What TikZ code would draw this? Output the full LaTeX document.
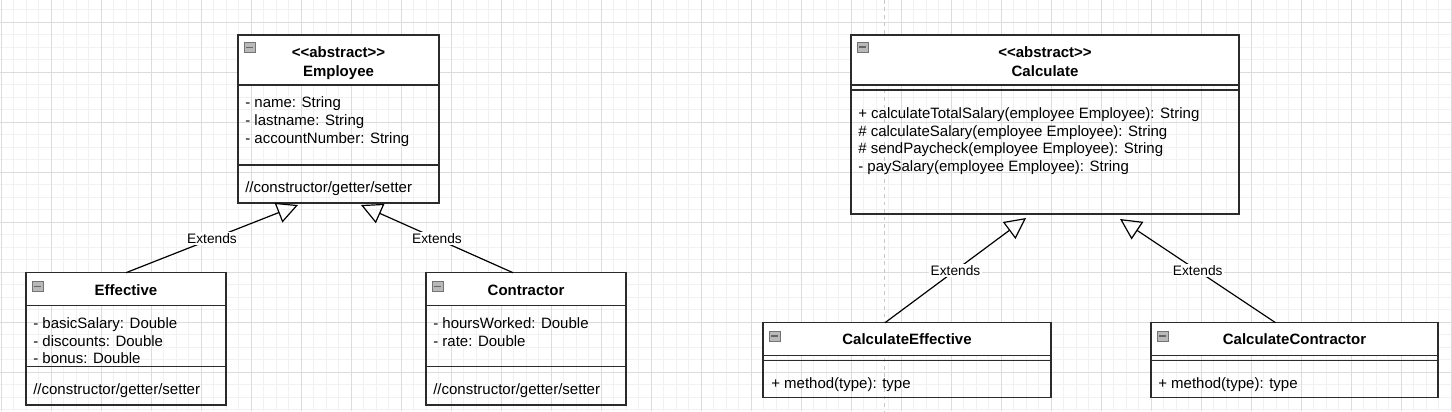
\documentclass[tikz,border=0pt]{standalone}
\usepackage{fontspec}
\setmainfont{Liberation Sans}[Ligatures=TeXOff]
\usetikzlibrary{arrows.meta,calc}
\definecolor{gmin}{HTML}{F1F1F1}
\definecolor{gmaj}{HTML}{DCDCDC}
\definecolor{dashc}{HTML}{C8C8C8}
\definecolor{boxc}{HTML}{2B2B2B}
\newcommand\umlbox[6]{%
  \node[box,minimum width={(#4-#2)*0.75pt},minimum height={(#5-#3)*0.75pt}] (#1) at ({(#2+#4)/2},{(#3+#5)/2}) {};
  \node[head,minimum width={(#4-#2)*0.75pt},minimum height={(#6-#3)*0.75pt}] (#1h) at ({(#2+#4)/2},{(#3+#6)/2}) {};}
\newcommand\sepline[2]{\draw[sep] (#1.west |- 0,#2) -- (#1.east |- 0,#2);}
\newcommand\lt[4]{\node[tx,anchor=base west] (#1) at (#2,#3+5) {#4};}
\newcommand\ct[4]{\node[tt,anchor=base] (#1) at (#2,#3+5) {#4};}
\newcommand\icon[3]{\node[ico,minimum width=8.25pt,minimum height=7.5pt,anchor=north west] (#1) at (#2,#3) {};
  \draw[black!60,line width=1pt] ([xshift=1.6pt]#1.west) -- ([xshift=-1.6pt]#1.east);}
\begin{document}
\begin{tikzpicture}[x=0.75pt,y=-0.75pt,
  box/.style={draw=boxc,line width=0.95pt,inner sep=0pt,outer sep=0pt,rectangle},
  head/.style={box,fill=white},
  sep/.style={draw=boxc,line width=0.95pt},
  tx/.style={inner sep=0pt,font=\fontsize{11.25}{13.5}\selectfont,text=black},
  tt/.style={tx,font=\fontsize{11.25}{13.5}\selectfont\bfseries},
  lbl/.style={fill=white,inner sep=1pt,text=black,font=\fontsize{10.3}{12}\selectfont},
  ext/.style={draw=black,line width=0.9pt,-{Triangle[open,length=15.75pt,width=15.75pt]}},
  ico/.style={draw=gray!90!black,fill=gray!55,line width=0.5pt,inner sep=0pt,outer sep=0pt,rectangle}]
\fill[white] (0,0) rectangle (1452,411);
\useasboundingbox (0,0) rectangle (1452,411);
% grid
\foreach \x in {1.3,13.8,...,1452} \draw[gmin,line width=0.75pt] (\x,0) -- (\x,411);
\foreach \y in {9.8,22.3,...,411} \draw[gmin,line width=0.75pt] (0,\y) -- (1452,\y);
\foreach \x in {1.3,51.3,...,1452} \draw[gmaj,line width=0.75pt] (\x,0) -- (\x,411);
\foreach \y in {22.3,72.3,...,411} \draw[gmaj,line width=0.75pt] (0,\y) -- (1452,\y);
% divider
\draw[dashc,line width=1.1pt,dash pattern=on 2.8pt off 2.8pt] (884.7,0) -- (884.7,411);
% Employee
\umlbox{emp}{238}{35}{439}{203}{85}
\sepline{emp}{165}
\icon{empi}{244}{42.5}
\ct{empa}{338.5}{52}{<{}<abstract>{}>}
\ct{empn}{338.5}{71}{Employee}
\lt{emp1}{245}{102}{- name: String}
\lt{emp2}{245}{120}{- lastname: String}
\lt{emp3}{245}{138}{- accountNumber: String}
\lt{emp4}{245}{187}{//constructor/getter/setter}
% Effective
\umlbox{eff}{26}{272.7}{226}{405}{305.3}
\sepline{eff}{366.7}
\icon{effi}{32}{281.5}
\ct{effn}{126}{290}{Effective}
\lt{eff1}{33}{323}{- basicSalary: Double}
\lt{eff2}{33}{341}{- discounts: Double}
\lt{eff3}{33}{358}{- bonus: Double}
\lt{eff4}{33}{389}{//constructor/getter/setter}
% Contractor
\umlbox{con}{426}{272.7}{626}{405}{305.3}
\sepline{con}{366.7}
\icon{coni}{432}{281.5}
\ct{conn}{526}{290}{Contractor}
\lt{con1}{433}{323}{- hoursWorked: Double}
\lt{con2}{433}{341}{- rate: Double}
\lt{con4}{433}{389}{//constructor/getter/setter}
% Calculate
\umlbox{cal}{851}{35}{1239}{214}{85}
\sepline{cal}{90}
\icon{cali}{857}{42}
\ct{cala}{1045}{52}{<{}<abstract>{}>}
\ct{caln}{1045}{71}{Calculate}
\lt{cal1}{858}{113}{+ calculateTotalSalary(employee Employee): String}
\lt{cal2}{858}{131}{\# calculateSalary(employee Employee): String}
\lt{cal3}{858}{148}{\# sendPaycheck(employee Employee): String}
\lt{cal4}{858}{166}{- paySalary(employee Employee): String}
% CalculateEffective
\umlbox{ceff}{763}{322.7}{1051}{397.3}{355.3}
\sepline{ceff}{360.3}
\icon{ceffi}{769}{331}
\ct{ceffn}{907}{339}{CalculateEffective}
\lt{ceff1}{771}{383}{+ method(type): type}
% CalculateContractor
\umlbox{ccon}{1151}{322.7}{1438}{397.3}{355.3}
\sepline{ccon}{360.3}
\icon{cconi}{1157}{331}
\ct{cconn}{1294.5}{339}{CalculateContractor}
\lt{ccon1}{1158}{383}{+ method(type): type}
% connectors
\coordinate (t1) at ([xshift={60*0.75pt},yshift={-2*0.75pt}]emp.south west);
\coordinate (t2) at ([xshift={123*0.75pt},yshift={-2*0.75pt}]emp.south west);
\coordinate (t3) at ([xshift={175*0.75pt},yshift={-4*0.75pt}]cal.south west);
\coordinate (t4) at ([xshift={269*0.75pt},yshift={-5*0.75pt}]cal.south west);
\draw[ext] (eff.north) -- node[lbl] (l1) {Extends} (t1);
\draw[ext] ([xshift={-13*0.75pt}]con.north) -- node[lbl] (l2) {Extends} (t2);
\draw[ext] ([xshift={-22*0.75pt}]ceff.north) -- node[lbl] (l3) {Extends} (t3);
\draw[ext] ([xshift={-19*0.75pt}]ccon.north) -- node[lbl] (l4) {Extends} (t4);
\end{tikzpicture}
\end{document}
